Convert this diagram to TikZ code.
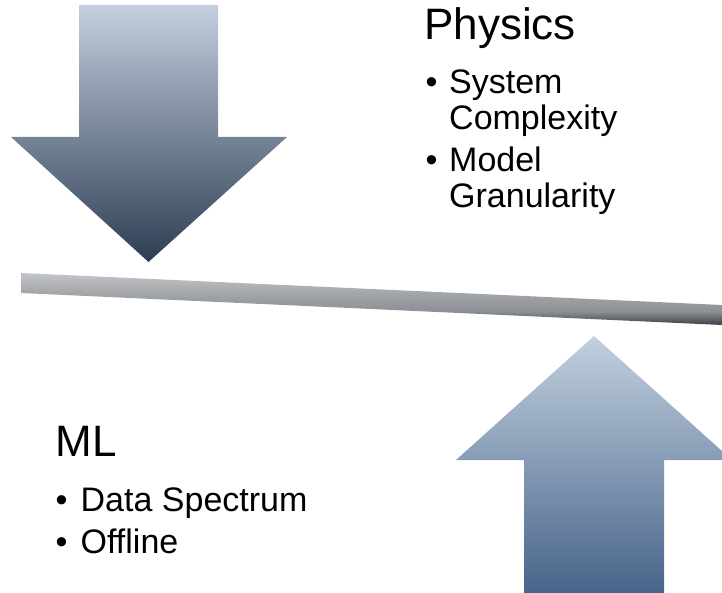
\documentclass[tikz,border=0pt]{standalone}
\usepackage{fontspec}
\setmainfont{Liberation Sans}
\definecolor{dtop}{HTML}{C2CFDE}
\definecolor{dmid}{HTML}{9AA8B9}
\definecolor{dbot}{HTML}{2E3D53}
\definecolor{utop}{HTML}{C2D0DF}
\definecolor{umid}{HTML}{A8B8CA}
\definecolor{ubot}{HTML}{48648A}
\definecolor{blight}{HTML}{C3C5C7}
\definecolor{bmid}{HTML}{A2A5A8}
\definecolor{bmid2}{HTML}{8C8F94}
\definecolor{bdark}{HTML}{3C4046}
\pgfdeclareverticalshading{barshade}{100bp}{color(0bp)=(bdark); color(25bp)=(bdark); color(38bp)=(bmid2); color(55bp)=(bmid); color(75bp)=(blight); color(100bp)=(blight)}
\tikzset{
  heading/.style={anchor=base west, inner sep=0pt, font=\fontsize{44}{50}\selectfont},
  item/.style={anchor=base west, inner sep=0pt, font=\fontsize{34}{40}\selectfont},
  downarrow/.style={top color=dtop, middle color=dmid, bottom color=dbot, draw=none},
  uparrow/.style={top color=utop, middle color=umid, bottom color=ubot, draw=none},
  barstyle/.style={shading=barshade, draw=none}
}
\begin{document}
\begin{tikzpicture}[x=1pt,y=1pt]
\useasboundingbox (0,0) rectangle (722,-593);
\clip (0,0) rectangle (722,-593);
% down arrow
\path[downarrow] (79,-5) -- (218,-5) -- (218,-137) -- (287,-137) -- (148.5,-262) -- (11,-137) -- (79,-137) -- cycle;
% up arrow
\path[uparrow] (594,-336) -- (732,-460) -- (664,-460) -- (664,-593) -- (524,-593) -- (524,-460) -- (456,-460) -- cycle;
% balance bar
\path[barstyle] (21,-273) -- (722,-305) -- (722,-325) -- (21,-293) -- cycle;
% texts
\node[heading] (phys) at (424,-39.3) {Physics};
\node[item] (pb1) at (425.5,-93.3) {•};
\node[item] (p1a) at (449,-93.3) {System};
\node[item] (p1b) at (449,-130) {Complexity};
\node[item] (pb2) at (425.5,-171.7) {•};
\node[item] (p2a) at (449,-171.7) {Model};
\node[item] (p2b) at (449,-207.5) {Granularity};
\node[heading] (ml) at (55.7,-456) {ML};
\node[item] (mb1) at (55.5,-511) {•};
\node[item] (m1) at (80.5,-511) {Data Spectrum};
\node[item] (mb2) at (55.5,-553) {•};
\node[item] (m2) at (80.5,-553) {Offline};
\end{tikzpicture}
\end{document}
